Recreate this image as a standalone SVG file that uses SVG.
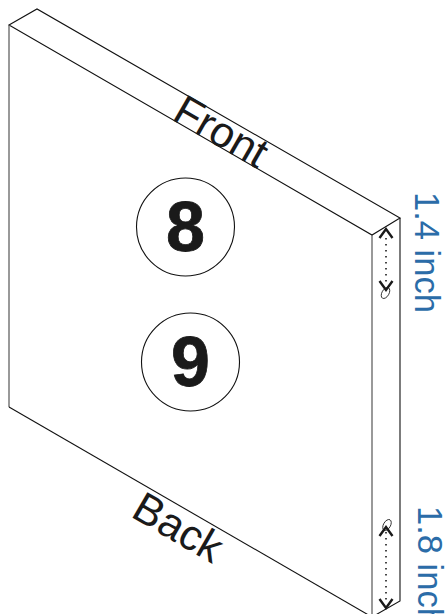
<svg xmlns="http://www.w3.org/2000/svg" width="445" height="614" viewBox="0 0 445 614">
<style>
.e{fill:none;stroke:#111;stroke-width:1.1}
.c{fill:#fff;stroke:#111;stroke-width:1.1}
.n{font-family:"Liberation Sans",Arial,sans-serif;font-weight:700;font-size:70px;fill:#1a1a1a;text-anchor:middle;stroke:#1a1a1a;stroke-width:0.8}
.l{font-family:"Liberation Sans",Arial,sans-serif;font-size:43px;fill:#1a1a1a;text-anchor:middle}
.d{font-family:"Liberation Sans",Arial,sans-serif;font-size:34.500px;fill:#2b6ca8}
.a{fill:none;stroke:#1a1a1a;stroke-width:2.4}
.t{fill:none;stroke:#1a1a1a;stroke-width:1.6;stroke-dasharray:1.6 4.4}
</style>
<rect width="445" height="614" fill="#fff"/>
<g id="board">
<path class="e" d="M9 25 L37 9 L400 218 L372 235 Z"/>
<path d="M9 25 L9 407" fill="none" stroke="#555" stroke-width="1.2"/>
<path d="M372 235 L372 614" fill="none" stroke="#555" stroke-width="1.2"/>
<path class="e" d="M400 218 L400 601 L372 617"/>
<path class="e" d="M9 407 L372 617"/>
</g>
<g id="node-8"><circle class="c" cx="185.500" cy="227" r="49"/><text class="n" x="185.500" y="251">8</text></g>
<g id="node-9"><circle class="c" cx="190.500" cy="362" r="49"/><text class="n" x="190.500" y="386">9</text></g>
<g id="label-front"><text class="l" transform="translate(214 144) rotate(30)">Front</text></g>
<g id="label-back"><text class="l" transform="translate(171 540) rotate(30)">Back</text></g>
<g id="connectors">
<path class="t" d="M386 238 L386 286"/>
<path class="a" d="M379.500 238 L386 229 L392.500 238"/>
<path class="a" d="M379.500 281 L386 290 L392.500 281"/>
<ellipse cx="385.500" cy="293" rx="3.500" ry="6" transform="rotate(30 385.500 293)" fill="none" stroke="#1a1a1a" stroke-width="0.8"/>
<path class="t" d="M386 532 L386 600"/>
<path class="a" d="M379.500 536 L386 527 L392.500 536"/>
<path class="a" d="M379.500 599 L386 608 L392.500 599"/>
<ellipse cx="387" cy="525" rx="3.500" ry="6" transform="rotate(30 387 525)" fill="none" stroke="#1a1a1a" stroke-width="0.8"/>
</g>
<g id="dim-14"><text class="d" transform="translate(415 192) rotate(90)">1.4 inch</text></g>
<g id="dim-18"><text class="d" transform="translate(418 506) rotate(90)">1.8 inch</text></g>
</svg>
